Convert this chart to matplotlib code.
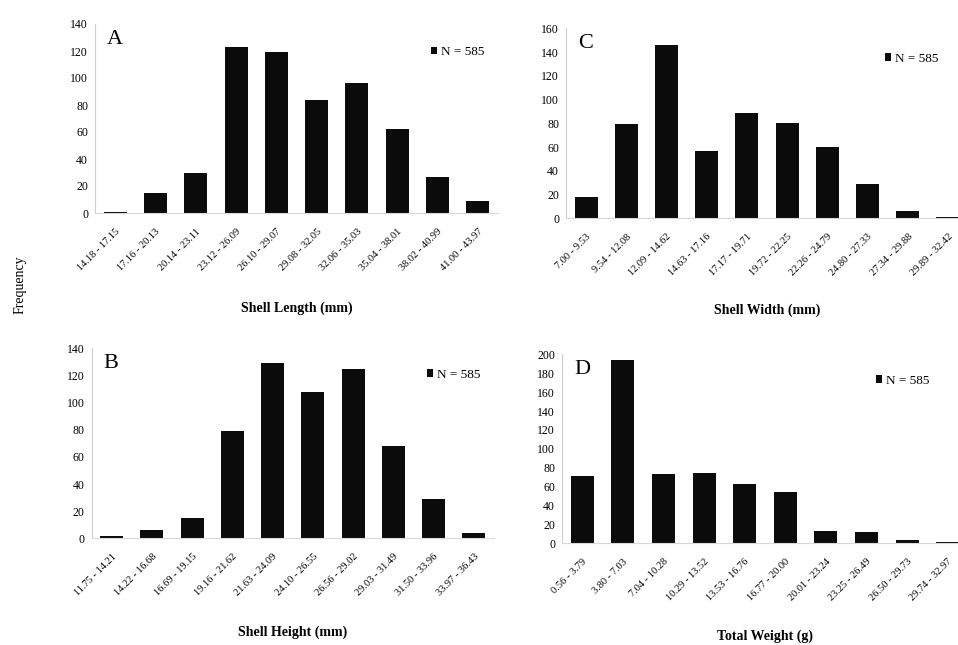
import matplotlib
matplotlib.use("Agg")
import matplotlib.pyplot as plt
import numpy as np

plt.rcParams['font.family'] = ['Liberation Serif', 'DejaVu Serif']

# Class intervals (tick labels) and frequencies for each morphometric trait
length_bins = ["14.18 - 17.15", "17.16 - 20.13", "20.14 - 23.11", "23.12 - 26.09",
               "26.10 - 29.07", "29.08 - 32.05", "32.06 - 35.03", "35.04 - 38.01",
               "38.02 - 40.99", "41.00 - 43.97"]
length_freq = [1, 15, 30, 123, 119, 84, 96, 62, 27, 9]

width_bins = ["7.00 - 9.53", "9.54 - 12.08", "12.09 - 14.62", "14.63 - 17.16",
              "17.17 - 19.71", "19.72 - 22.25", "22.26 - 24.79", "24.80 - 27.33",
              "27.34 - 29.88", "29.89 - 32.42"]
width_freq = [18, 79, 146, 57, 89, 80, 60, 29, 6, 1]

height_bins = ["11.75 - 14.21", "14.22 - 16.68", "16.69 - 19.15", "19.16 - 21.62",
               "21.63 - 24.09", "24.10 - 26.55", "26.56 - 29.02", "29.03 - 31.49",
               "31.50 - 33.96", "33.97 - 36.43"]
height_freq = [2, 6, 15, 79, 129, 108, 125, 68, 29, 4]

weight_bins = ["0.56 - 3.79", "3.80 - 7.03", "7.04 - 10.28", "10.29 - 13.52",
               "13.53 - 16.76", "16.77 - 20.00", "20.01 - 23.24", "23.25 - 26.49",
               "26.50 - 29.73", "29.74 - 32.97"]
weight_freq = [71, 194, 73, 74, 63, 54, 13, 12, 3, 1]

sample_label = "N = 585"

W, H = 958, 645
fig = plt.figure(figsize=(W / 100, H / 100), dpi=100)


def px_axes(left, right, top, bottom):
    return fig.add_axes([left / W, 1 - bottom / H, (right - left) / W, (bottom - top) / H])


panels = [
    # letter, bins, freq, ymax, ystep, xlabel, (left, right, top, bottom), legend xy, label y
    ("A", length_bins, length_freq, 140, 20, "Shell Length (mm)", (95, 498, 24, 213), (0.82, 0.85), 308),
    ("C", width_bins, width_freq, 160, 20, "Shell Width (mm)", (566, 968, 28.3, 218.3), (0.78, 0.84), 310),
    ("B", height_bins, height_freq, 140, 20, "Shell Height (mm)", (91.5, 494, 348.3, 538.3), (0.82, 0.86), 632),
    ("D", weight_bins, weight_freq, 200, 20, "Total Weight (g)", (562, 968, 354.3, 543.3), (0.76, 0.86), 636),
]

for letter, bins, freq, ymax, ystep, xlabel, box, leg_xy, label_y in panels:
    left, right, top, bottom = box
    ax = px_axes(left, right, top, bottom)
    x = np.arange(len(bins))
    ax.bar(x, freq, width=0.57, color="#0b0b0b", label=sample_label)
    ax.set_xlim(-0.5, len(bins) - 0.5)
    ax.set_ylim(0, ymax)
    ax.set_yticks(np.arange(0, ymax + 1, ystep))
    ax.tick_params(axis="y", length=0, pad=5, labelsize=8.5)
    ax.set_xticks(x)
    ax.set_xticklabels(bins, rotation=45, ha="right", rotation_mode="anchor", fontsize=7.5)
    ax.tick_params(axis="x", length=0, pad=10)
    for s in ("top", "right"):
        ax.spines[s].set_visible(False)
    ax.spines["left"].set_color("#cfcfcf")
    ax.spines["left"].set_linewidth(0.8)
    ax.spines["bottom"].set_color("#d8d8d8")
    ax.spines["bottom"].set_linewidth(0.8)
    ax.text(0.03, 0.92, letter, transform=ax.transAxes, fontsize=16,
            ha="left", va="center")
    ax.legend(loc="center left", bbox_to_anchor=leg_xy, frameon=False,
              handlelength=0.5, handleheight=0.5, handletextpad=0.3,
              fontsize=9.5, borderaxespad=0)
    ax.set_xlabel(xlabel, fontsize=10, fontweight="bold")
    # place the axis title at a fixed height below the rotated tick labels
    yfrac = (bottom - label_y) / (bottom - top)
    ax.xaxis.set_label_coords(0.5, yfrac)
    ax.xaxis.label.set_va("center")

fig.text(20 / W, 1 - 285 / H, "Frequency", rotation=90, ha="center", va="center", fontsize=10)

fig.savefig("out.png", dpi=100, facecolor="white")
